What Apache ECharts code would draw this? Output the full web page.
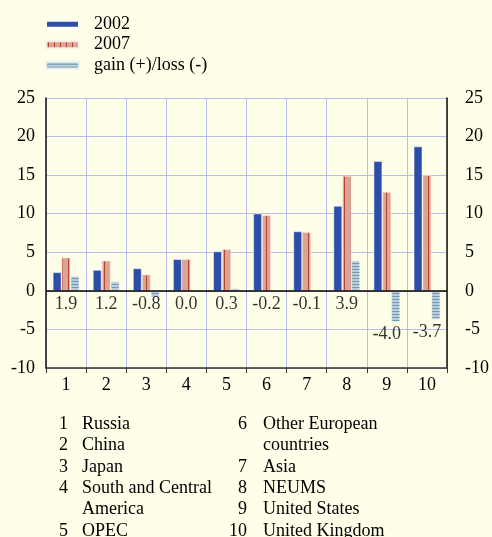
<!DOCTYPE html>
<html><head><meta charset="utf-8">
<script src="https://cdn.jsdelivr.net/npm/echarts@6/dist/echarts.min.js"></script>
<style>html,body{margin:0;padding:0;background:#fefee9;}#c{width:492px;height:537px;}</style>
</head><body><div id="c"></div>
<script>
const categories = ['1','2','3','4','5','6','7','8','9','10'];
const regionNames = ['Russia','China','Japan','South and Central\nAmerica','OPEC','Other European\ncountries','Asia','NEUMS','United States','United Kingdom'];
const seriesNames = ['2002','2007','gain (+)/loss (-)'];
const v2002 = [2.4, 2.7, 2.9, 4.1, 5.1, 10.0, 7.7, 11.0, 16.8, 18.7];
const v2007 = [4.3, 3.9, 2.1, 4.1, 5.4, 9.8, 7.6, 14.9, 12.8, 15.0];
const gain  = [1.9, 1.2, -0.8, 0.0, 0.3, -0.2, -0.1, 3.9, -4.0, -3.7];

const FONT = '"Liberation Serif", "Times New Roman", serif';

function pattern(w, h, bg, fg, draw) {
  const c = document.createElement('canvas');
  c.width = w; c.height = h;
  const g = c.getContext('2d');
  g.fillStyle = bg; g.fillRect(0, 0, w, h);
  g.fillStyle = fg; draw(g);
  return { image: c, repeat: 'repeat' };
}
const pinkPat = pattern(6, 1, '#d9a594', '#b8402e', g => g.fillRect(2, 0, 1, 1));
const bluePat = pattern(1, 3, '#b9cdda', '#6f9bb0', g => g.fillRect(0, 2, 1, 1));

const chart = echarts.init(document.getElementById('c'), null, {renderer: 'canvas'});

const graphics = [];
const rowH = 21.4, firstTop = 424 - rowH / 2;
function addItem(idx, row, numX, nameX) {
  graphics.push({type: 'text', style: {text: String(idx + 1), x: numX, y: firstTop + row * rowH,
    font: '18px ' + FONT, fill: '#000', textAlign: 'right', textVerticalAlign: 'top', lineHeight: rowH}});
  graphics.push({type: 'text', style: {text: regionNames[idx], x: nameX, y: firstTop + row * rowH,
    font: '18px ' + FONT, fill: '#000', textAlign: 'left', textVerticalAlign: 'top', lineHeight: rowH}});
  return regionNames[idx].split('\n').length;
}
let r = 0;
for (let i = 0; i < 5; i++) r += addItem(i, r, 68, 82);
r = 0;
for (let i = 5; i < 10; i++) r += addItem(i, r, 247, 263);

const yAxisCommon = {
  type: 'value', min: -10, max: 25, interval: 5,
  axisTick: {show: false},
  axisLine: {show: true, lineStyle: {color: '#111', width: 1.5}},
};

chart.setOption({
  animation: false,
  backgroundColor: '#fefee9',
  textStyle: {fontFamily: FONT},
  legend: {
    orient: 'vertical', left: 45, top: 14, padding: 0, itemWidth: 33, itemHeight: 7, itemGap: 0,
    icon: 'rect',
    data: seriesNames,
    textStyle: {fontFamily: FONT, fontSize: 18, color: '#000', lineHeight: 20.5, padding: [0, 0, 0, 10]}
  },
  grid: {left: 46, right: 39, top: 98, bottom: 169},
  xAxis: {
    type: 'category', data: categories, boundaryGap: true,
    axisLine: {onZero: false, lineStyle: {color: '#333', width: 1.5}},
    axisTick: {show: true, length: 5, lineStyle: {color: '#333'}},
    splitLine: {show: true, lineStyle: {color: '#b8bce8', width: 1}},
    axisLabel: {fontFamily: FONT, fontSize: 18, color: '#000', margin: 8}
  },
  yAxis: [
    Object.assign({}, yAxisCommon, {
      position: 'left',
      splitLine: {show: true, lineStyle: {color: '#b8bce8', width: 1}},
      axisLabel: {fontFamily: FONT, fontSize: 18, color: '#000', margin: 11}
    }),
    Object.assign({}, yAxisCommon, {
      position: 'right',
      splitLine: {show: false},
      axisLabel: {fontFamily: FONT, fontSize: 18, color: '#000', margin: 18, align: 'left'}
    })
  ],
  series: [
    {name: seriesNames[0], type: 'bar', data: v2002, barWidth: 8.5, barGap: '5%',
      itemStyle: {color: '#2c4ea8', borderColor: '#ffffff', borderWidth: 0.5}},
    {name: seriesNames[1], type: 'bar', data: v2007, barWidth: 8.5, barGap: '5%',
      itemStyle: {color: pinkPat, borderColor: '#fbeee6', borderWidth: 0.5}},
    {name: seriesNames[2], type: 'bar', data: gain, barWidth: 8.5, barGap: '5%',
      itemStyle: {color: bluePat, borderColor: '#eef2f2', borderWidth: 0.5},
      markLine: {silent: true, symbol: 'none', label: {show: false},
        lineStyle: {color: '#000', width: 1.5, type: 'solid'}, data: [{yAxis: 0}]}},
    {type: 'scatter', symbolSize: 0, silent: true,
      data: gain.map(g => (g < -1 ? g : 0)),
      label: {show: true, position: 'bottom', distance: 4, fontFamily: FONT, fontSize: 18, color: '#000',
        formatter: p => gain[p.dataIndex].toFixed(1)}}
  ],
  graphic: graphics
});
</script></body></html>
